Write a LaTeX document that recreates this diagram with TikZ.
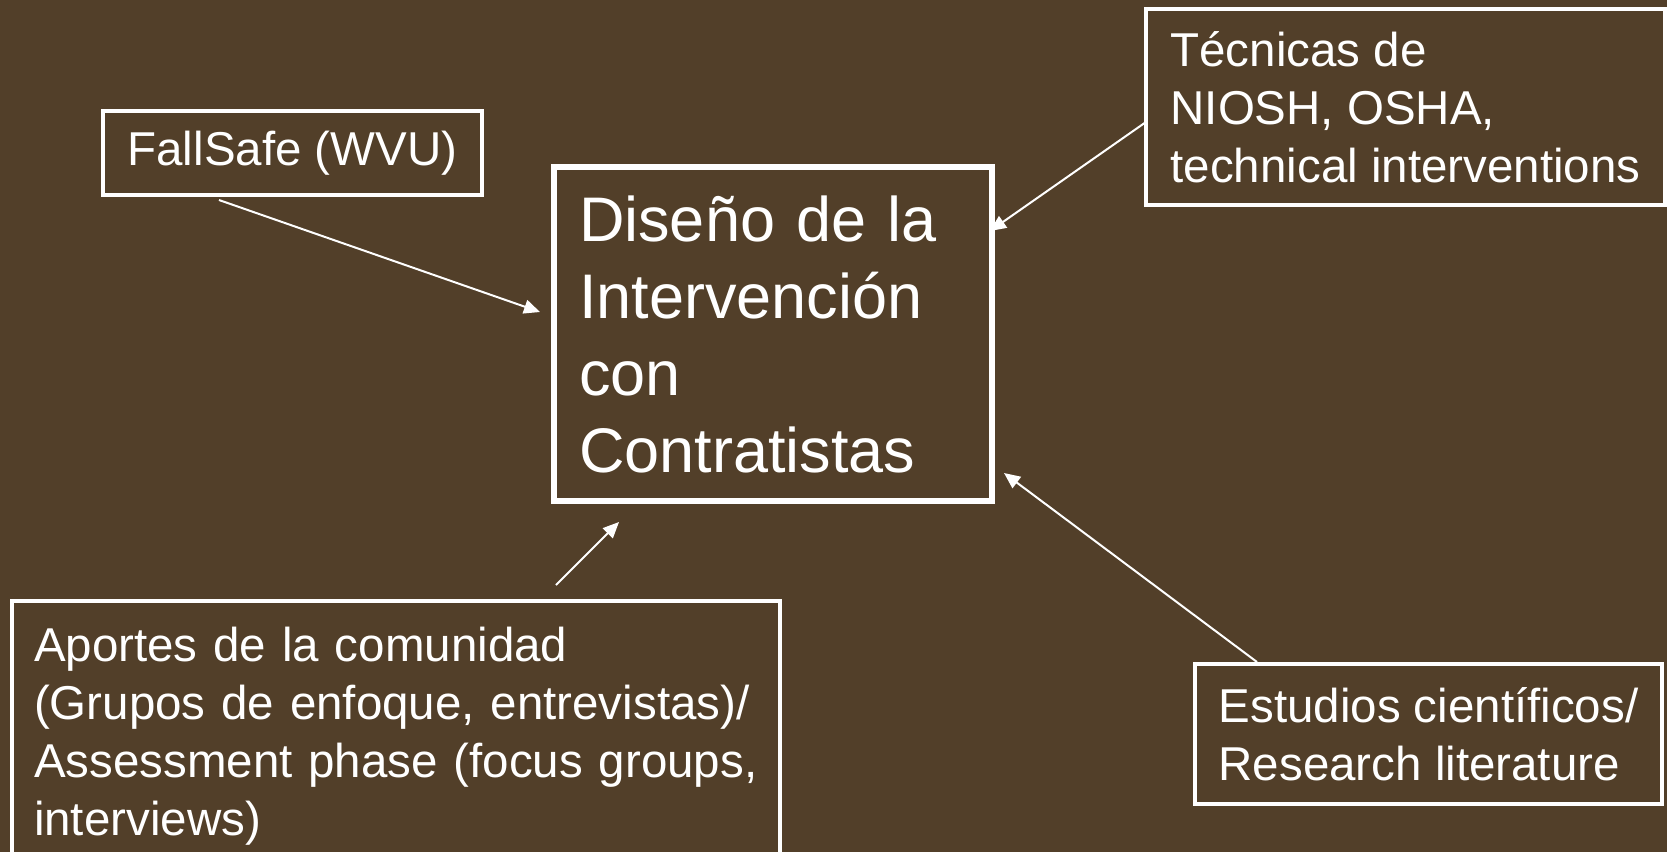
\documentclass[tikz,border=0pt]{standalone}
\usepackage{fontspec}
\setmainfont{Liberation Sans}
\usetikzlibrary{arrows.meta}
\definecolor{bgbrown}{RGB}{82,63,41}
\tikzset{
  box/.style={draw=white, line width=4pt, text=white, align=left,
    font=\fontsize{47.5}{58}\selectfont, inner xsep=24pt},
  mainbox/.style={box, line width=6pt, font=\fontsize{63}{77}\selectfont},
  feed/.style={draw=white, line width=2pt, -{Triangle[length=16pt,width=14pt]}}
}

\begin{document}
\begin{tikzpicture}[x=1pt,y=-1pt]
\useasboundingbox (0,0) rectangle (1667,852);
\fill[bgbrown] (0,0) rectangle (1667,852);
% Central box
\node[mainbox, text width=388pt, inner xsep=25pt, minimum height=334pt] (diseno) at (773,334)
  {Diseño de la\\Intervención\\con\\Contratistas};
% Input boxes
\node[box, minimum width=379pt, minimum height=84pt] (fall) at (292.5,153) {FallSafe (WVU)};
\node[box, minimum width=519pt, minimum height=196pt] (tecnicas) at (1405.5,107)
  {Técnicas de\\NIOSH, OSHA,\\technical interventions};
\node[box, minimum width=467pt, minimum height=140pt] (estudios) at (1428.5,734)
  {Estudios científicos/\\Research literature};
\node[box, text width=724pt, inner xsep=22pt, minimum height=270pt] (aportes) at (396,736)
  {Aportes de la comunidad\\(Grupos de enfoque, entrevistas)/\\Assessment phase (focus groups,\\interviews)};
% Arrow ends
\coordinate (fallTail) at (219,200);
\coordinate (fallHead) at (540,312);
\coordinate (tecTail) at (1146,122);
\coordinate (tecHead) at (990,231);
\coordinate (apTail) at (556,585);
\coordinate (apHead) at (619,522);
\coordinate (estTail) at (1257,662);
\coordinate (estHead) at (1004,473);
% Arrows into the design
\draw[feed] (fallTail) -- (fallHead);
\draw[feed] (tecTail) -- (tecHead);
\draw[feed] (apTail) -- (apHead);
\draw[feed] (estTail) -- (estHead);
\end{tikzpicture}
\end{document}
